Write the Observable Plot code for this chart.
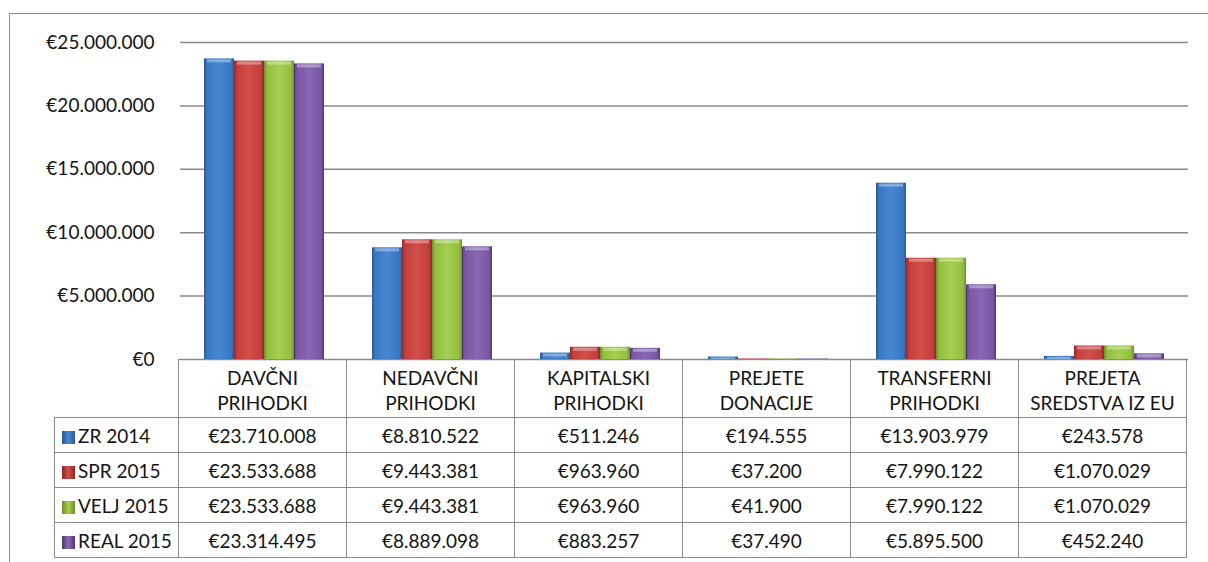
<!DOCTYPE html>
<html>
<head>
<meta charset="utf-8">
<script src="https://cdn.jsdelivr.net/npm/d3@7"></script>
<script src="https://cdn.jsdelivr.net/npm/@observablehq/plot@0.6"></script>
<style>
  html, body { margin: 0; padding: 0; background: #fff; }
  #wrap { position: relative; width: 1208px; height: 562px; overflow: hidden; font-family: Lato, "Open Sans", sans-serif; color: #141414; }
  #frame { position: absolute; left: 9px; top: 13px; width: 1300px; height: 700px; border-left: 1.5px solid #8a8a8a; border-top: 1.5px solid #8a8a8a; }
  #chart { position: absolute; left: 0; top: 0; }
  table { position: absolute; border-collapse: collapse; table-layout: fixed; font-size: 19px; }
  td { border: 1.5px solid #8a8a8a; text-align: center; padding: 0; white-space: pre-line; line-height: 25px; }
  td.blank { border: none; border-right: 1.5px solid #8a8a8a; }
  td.leg { text-align: left; padding-left: 7px; white-space: nowrap; }
  .key { display: inline-block; width: 13px; height: 13px; margin-right: 3px; vertical-align: -1px; }
</style>
</head>
<body>
<div id="wrap">
  <div id="frame"></div>
  <div id="chart"></div>
</div>
<script>
// ---- data ----
const categories = ["DAVČNI\nPRIHODKI", "NEDAVČNI\nPRIHODKI", "KAPITALSKI\nPRIHODKI", "PREJETE\nDONACIJE", "TRANSFERNI\nPRIHODKI", "PREJETA\nSREDSTVA IZ EU"];
const seriesNames = ["ZR 2014", "SPR 2015", "VELJ 2015", "REAL 2015"];
const zr2014   = [23710008, 8810522, 511246, 194555, 13903979, 243578];
const spr2015  = [23533688, 9443381, 963960, 37200, 7990122, 1070029];
const velj2015 = [23533688, 9443381, 963960, 41900, 7990122, 1070029];
const real2015 = [23314495, 8889098, 883257, 37490, 5895500, 452240];
const yTicks = [0, 5000000, 10000000, 15000000, 20000000, 25000000];

const seriesValues = [zr2014, spr2015, velj2015, real2015];
const palette = {
  "ZR 2014":   ["#2a5a96", "#3a77c2", "#4787d3"],
  "SPR 2015":  ["#8e2826", "#c03f3c", "#d24e4a"],
  "VELJ 2015": ["#6d8c2c", "#93be41", "#a5cf51"],
  "REAL 2015": ["#4f3873", "#7858a4", "#8868b5"]
};
const gradIds = seriesNames.map((s, i) => "grad" + i);

const table = [];
seriesNames.forEach((s, si) => categories.forEach((c, ci) => table.push({series: s, category: c, value: seriesValues[si][ci]})));

const loc = d3.formatLocale({decimal: ",", thousands: ".", grouping: [3], currency: ["€", ""]});
const fmt = loc.format("$,.0f");

const chart = Plot.plot({
  width: 1208,
  height: 372,
  marginLeft: 178,
  marginRight: 18,
  marginTop: 42,
  marginBottom: 13,
  style: {fontFamily: "Lato, 'Open Sans', sans-serif", fontSize: "19px", color: "#141414", background: "transparent", overflow: "visible"},
  fx: {domain: categories, padding: 0, axis: null},
  x: {domain: seriesNames, paddingInner: 0, paddingOuter: 0.72, axis: null},
  y: {domain: [0, 25000000], axis: null},
  color: {domain: seriesNames, range: gradIds.map(id => `url(#${id})`)},
  marks: [
    Plot.gridY(yTicks, {stroke: "#8a8a8a", strokeOpacity: 1, strokeWidth: 1.5}),
    Plot.barY(table, {fx: "category", x: "series", y: "value", fill: "series"}),
    Plot.tickY(table, {fx: "category", x: "series", y: "value", stroke: "#ffffff", strokeOpacity: 0.35, strokeWidth: 3, dy: 2, insetLeft: 3, insetRight: 3}),
    Plot.axisY(yTicks, {tickSize: 0, tickPadding: 26, tickFormat: fmt, line: true, stroke: "#8a8a8a", strokeWidth: 1.5, fill: "#141414", label: null})
  ]
});

// gradient defs
const svg = d3.select(chart.tagName === "svg" ? chart : chart.querySelector("svg"));
const defs = svg.insert("defs", ":first-child");
seriesNames.forEach((s, i) => {
  const [d, m, l] = palette[s];
  const g = defs.append("linearGradient").attr("id", gradIds[i]).attr("x1", "0").attr("x2", "1").attr("y1", "0").attr("y2", "0");
  [[0, d], [0.1, m], [0.5, l], [0.9, m], [1, d]].forEach(([o, c]) => g.append("stop").attr("offset", o).attr("stop-color", c));
});
document.getElementById("chart").appendChild(chart);

// data table aligned to the fx scale
const fxs = chart.scale("fx");
const colW = fxs.bandwidth !== undefined ? fxs.bandwidth : fxs.step;
const left0 = fxs.range[0];
const yS = chart.scale("y");
const legendLeft = 54;
const tbl = document.createElement("table");
tbl.style.left = legendLeft + "px";
tbl.style.top = (yS.apply(0)) + "px";
tbl.style.width = (left0 - legendLeft + colW * categories.length) + "px";
const cg = document.createElement("colgroup");
const c0 = document.createElement("col"); c0.style.width = (left0 - legendLeft) + "px"; cg.appendChild(c0);
categories.forEach(() => { const c = document.createElement("col"); c.style.width = colW + "px"; cg.appendChild(c); });
tbl.appendChild(cg);
const hr = tbl.insertRow();
hr.style.height = "58px";
const hb = hr.insertCell(); hb.className = "blank";
categories.forEach(c => { const td = hr.insertCell(); td.textContent = c; td.style.paddingTop = "2px"; });
seriesNames.forEach((s, si) => {
  const r = tbl.insertRow();
  r.style.height = "35px";
  const lc = r.insertCell(); lc.className = "leg";
  const [d, m, l] = palette[s];
  const key = document.createElement("span"); key.className = "key";
  key.style.background = `linear-gradient(to right, ${d}, ${l} 50%, ${d})`;
  lc.appendChild(key);
  lc.appendChild(document.createTextNode(s));
  seriesValues[si].forEach(v => { const td = r.insertCell(); td.textContent = fmt(v); });
});
document.getElementById("wrap").appendChild(tbl);
</script>
</body>
</html>
